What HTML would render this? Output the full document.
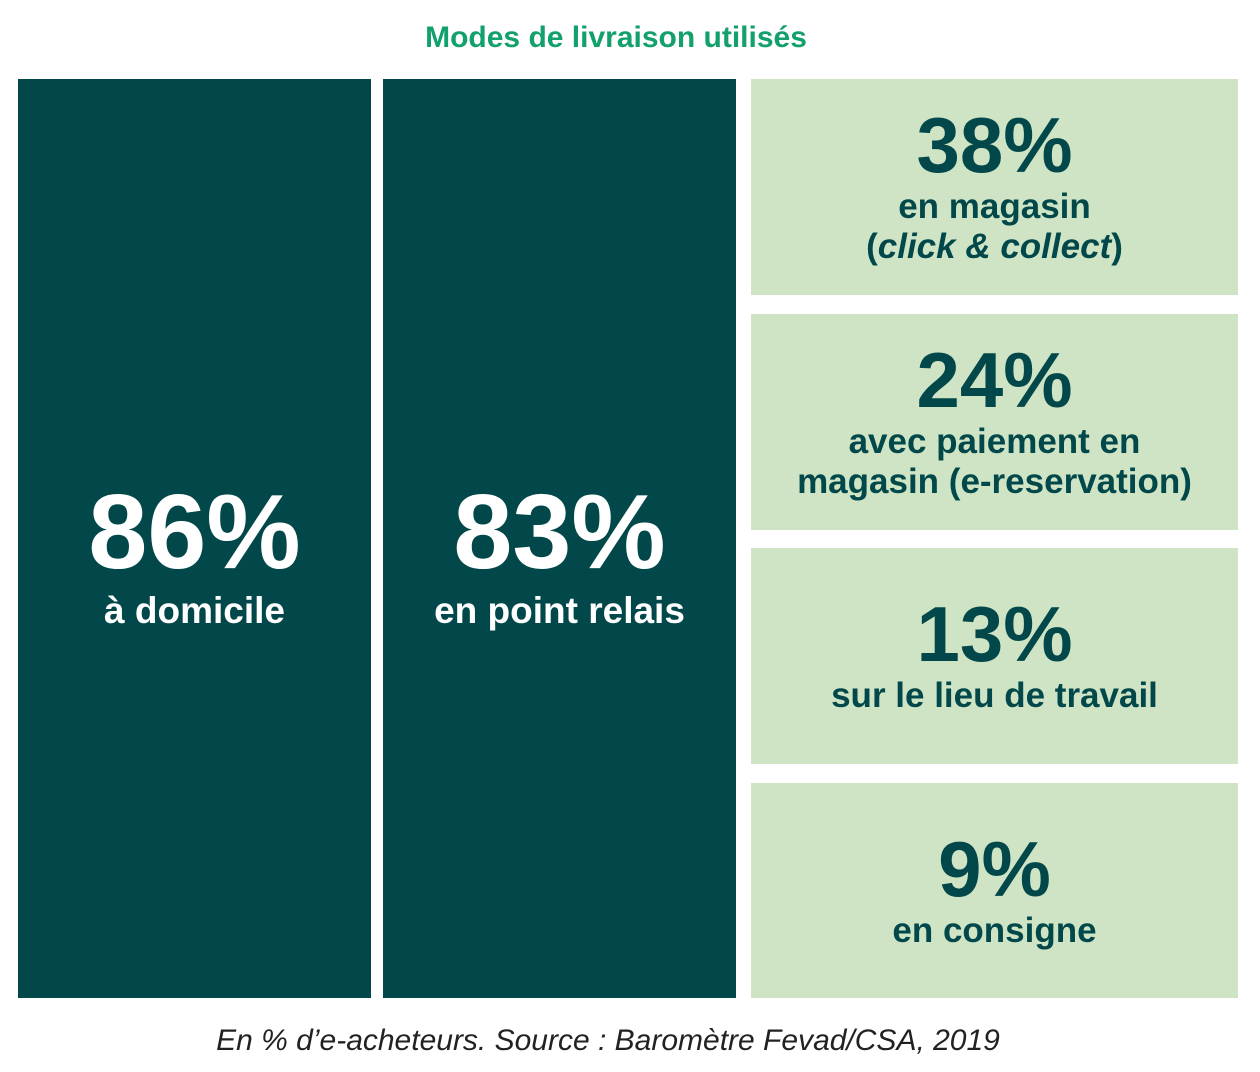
<!DOCTYPE html>
<html><head><meta charset="utf-8">
<style>
body{margin:0;width:1260px;height:1072px;background:#fff;position:relative;font-family:"Liberation Sans",sans-serif;overflow:hidden}
.t{position:absolute;left:0;width:1232px;top:21px;text-align:center;color:#12a06b;font-weight:bold;font-size:30px}
.box{position:absolute;display:flex;flex-direction:column;align-items:center;justify-content:center;text-align:center;font-weight:bold}
.dark{background:#02484a;color:#fff}
.light{background:#cfe4c5;color:#02484a}
.dark .in{margin-top:36px}
.dark .v{font-size:106px;line-height:100px;letter-spacing:0}
.dark .l{font-size:37px;line-height:42px;margin-top:8px}
.light .v{font-size:78px;line-height:76px;letter-spacing:0}
.light .l{font-size:35px;line-height:40px;margin-top:4px}
.f{position:absolute;left:0;width:1216px;top:1024px;text-align:center;font-style:italic;font-size:30px;color:#222}
</style></head><body>
<div class="t">Modes de livraison utilisés</div>
<div class="box dark" style="left:18px;top:79px;width:353px;height:919px"><div class="in"><div class="v">86%</div><div class="l">à domicile</div></div></div>
<div class="box dark" style="left:383px;top:79px;width:353px;height:919px"><div class="in"><div class="v">83%</div><div class="l">en point relais</div></div></div>
<div class="box light" style="left:751px;top:79px;width:487px;height:216px"><div class="v">38%</div><div class="l">en magasin<br>(<i>click &amp; collect</i>)</div></div>
<div class="box light" style="left:751px;top:314px;width:487px;height:216px"><div class="v">24%</div><div class="l">avec paiement en<br>magasin (e-reservation)</div></div>
<div class="box light" style="left:751px;top:548px;width:487px;height:216px"><div class="v">13%</div><div class="l">sur le lieu de travail</div></div>
<div class="box light" style="left:751px;top:783px;width:487px;height:215px"><div class="v">9%</div><div class="l">en consigne</div></div>
<div class="f">En % d’e-acheteurs. Source : Baromètre Fevad/CSA, 2019</div>
</body></html>
